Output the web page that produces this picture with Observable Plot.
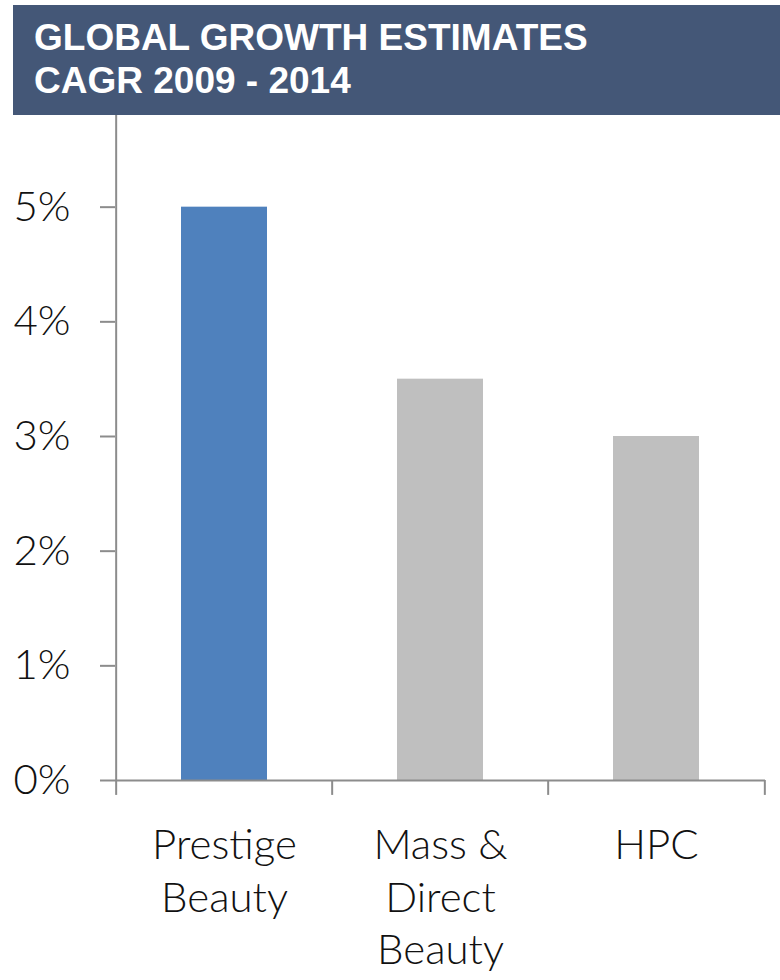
<!DOCTYPE html>
<html><head><meta charset="utf-8">
<script src="https://cdn.jsdelivr.net/npm/d3@7"></script>
<script src="https://cdn.jsdelivr.net/npm/@observablehq/plot@0.6"></script>
<style>
body{margin:0;background:#fff;}
#wrap{position:relative;width:780px;height:980px;overflow:hidden;}
#banner{position:absolute;left:13px;top:5px;width:767px;height:110px;background:#445777;color:#fff;
font-family:"Liberation Sans",Arial,sans-serif;font-weight:bold;font-size:37px;line-height:43px;box-sizing:border-box;padding:11px 0 0 21px;}
</style></head><body>
<div id="wrap"><div id="chart"></div><div id="banner">GLOBAL GROWTH ESTIMATES<br>CAGR 2009 - 2014</div></div>
<script>
const categories = ["Prestige\nBeauty", "Mass &\nDirect\nBeauty", "HPC"];
const values = [5.0, 3.5, 3.0];
const colors = ["#4F81BD", "#BFBFBF", "#BFBFBF"];
const yTicks = [0, 1, 2, 3, 4, 5];

const data = categories.map((c, i) => ({cat: c, v: values[i], color: colors[i]}));
const W = 780, H = 980, ML = 115, MR = 15;
const step = (W - ML - MR) / categories.length;
const axisColor = "#8c8c8c";
const font = "Lato, 'Open Sans', sans-serif";

const plot = Plot.plot({
  width: W, height: H,
  marginLeft: ML, marginRight: MR, marginTop: 92, marginBottom: 200,
  style: {fontFamily: font, fontWeight: 300, color: "#111", background: "#fff"},
  x: {domain: categories, padding: 0, label: null},
  y: {domain: [0, 6], label: null},
  marks: [
    Plot.barY(data, {x: "cat", y: "v", fill: "color", insetLeft: 65, insetRight: 65}),
    Plot.ruleX([ML], {x: () => categories[0], dx: -step / 2, y1: 6, y2: 0, stroke: axisColor, strokeWidth: 2}),
    Plot.ruleX(categories, {x: d => d, dx: -step / 2, y1: 0, y2: -0.13, stroke: axisColor, strokeWidth: 2}),
    Plot.ruleX([categories[categories.length - 1]], {x: d => d, dx: step / 2, y1: 0, y2: -0.13, stroke: axisColor, strokeWidth: 2}),
    Plot.ruleY([0], {stroke: axisColor, strokeWidth: 2}),
    Plot.axisY({ticks: yTicks, tickSize: 15, tickPadding: 30, tickFormat: d => d + "%", fontSize: 42, stroke: axisColor, strokeWidth: 2, fill: "#111", fontWeight: 300}),
    Plot.axisX({tickSize: 0, tickPadding: 42, fontSize: 42, lineHeight: 1.24, fill: "#111", fontWeight: 300})
  ]
});
document.getElementById("chart").appendChild(plot);
</script>
</body></html>
